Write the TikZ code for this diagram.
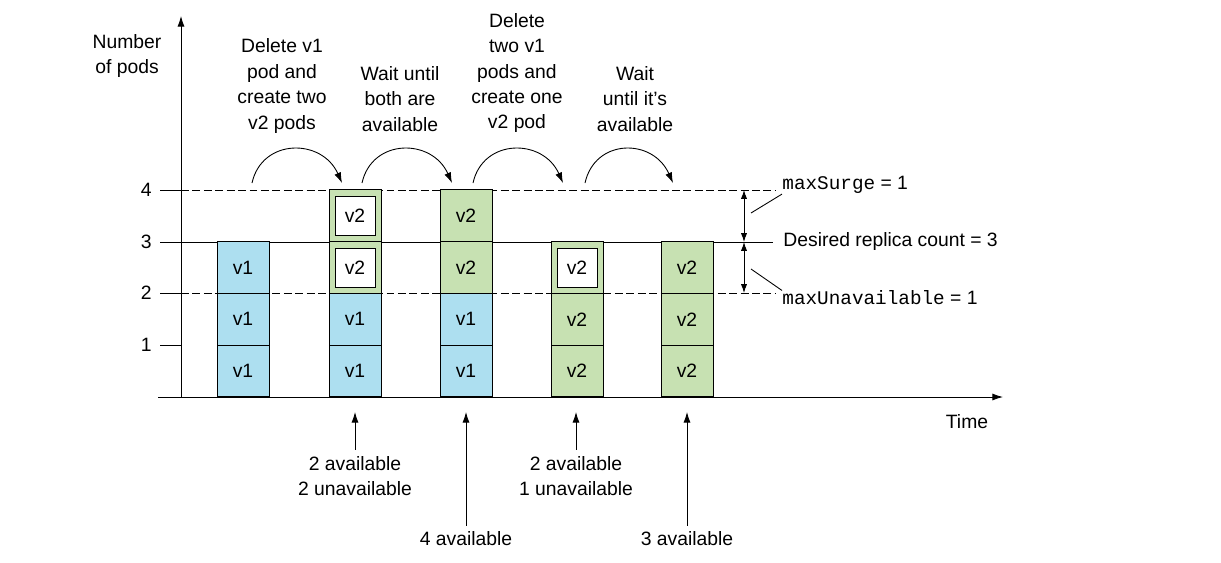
\documentclass[tikz,border=0pt]{standalone}
\usepackage{fontspec}
\setmainfont{Liberation Sans}
\setmonofont{Liberation Mono}
\usetikzlibrary{arrows.meta}
\definecolor{podblue}{RGB}{173,223,240}
\definecolor{podgreen}{RGB}{199,225,178}

\begin{document}
\begin{tikzpicture}[x=0.02cm, y=-0.02cm, line width=0.5pt, font=\fontsize{11}{14.5}\selectfont,
    cell/.style={draw, minimum width=1.04cm, minimum height=1.035cm, inner sep=0pt},
    oldpod/.style={cell, fill=podblue},
    newpod/.style={cell, fill=podgreen},
    startpod/.style={draw, fill=white, minimum width=0.8cm, minimum height=0.78cm, inner sep=0pt},
    note/.style={align=center},
    arr/.style={-{Latex[length=6pt,width=4pt]}},
    dimarr/.style={{Latex[length=5pt,width=3.5pt]}-{Latex[length=5pt,width=3.5pt]}},
    lvl/.style={dash pattern=on 4.5pt off 2pt}]
    \useasboundingbox (0,0) rectangle (1221,562);

    % axes
    \coordinate (xstart) at (158,397);
    \coordinate (xend) at (1003,397);
    \coordinate (O) at (181,397);
    \coordinate (yend) at (181,16);
    \draw[arr] (xstart) -- (xend);
    \draw[arr] (O) -- (yend);
    \node[note] (ylabel) at (127,56) {Number\\of pods};
    \node (xlabel) at (967,422) {Time};
    \foreach \n/\y in {1/345, 2/293, 3/242, 4/190} {
        \draw (160,\y) -- (181,\y);
        \node[anchor=east, inner sep=0pt] (tick\n) at (152,\y) {\n};
    }

    % levels
    \draw[lvl] (181,190) -- (775,190);
    \draw (181,242) -- (773,242);
    \draw[lvl] (181,293) -- (775,293);

    % column 1
    \node[oldpod] (p11) at (243,371) {v1};
    \node[oldpod] (p12) at (243,319.25) {v1};
    \node[oldpod] (p13) at (243,267.5) {v1};
    % column 2
    \node[oldpod] (p21) at (355,371) {v1};
    \node[oldpod] (p22) at (355,319.25) {v1};
    \node[newpod] (p23) at (355,267.5) {};
    \node[startpod] (s23) at (p23) {v2};
    \node[newpod] (p24) at (355,215.75) {};
    \node[startpod] (s24) at (p24) {v2};
    % column 3
    \node[oldpod] (p31) at (466,371) {v1};
    \node[oldpod] (p32) at (466,319.25) {v1};
    \node[newpod] (p33) at (466,267.5) {v2};
    \node[newpod] (p34) at (466,215.75) {v2};
    % column 4
    \node[newpod] (p41) at (577,371) {v2};
    \node[newpod] (p42) at (577,319.25) {v2};
    \node[newpod] (p43) at (577,267.5) {};
    \node[startpod] (s43) at (p43) {v2};
    % column 5
    \node[newpod] (p51) at (687,371) {v2};
    \node[newpod] (p52) at (687,319.25) {v2};
    \node[newpod] (p53) at (687,267.5) {v2};

    % steps
    \node[note] (step1) at (282,86) {Delete v1\\pod and\\create two\\v2 pods};
    \node[note] (step2) at (400,99) {Wait until\\both are\\available};
    \node[note] (step3) at (517,73) {Delete\\two v1\\pods and\\create one\\v2 pod};
    \node[note] (step4) at (635,99) {Wait\\until it's\\available};
    \coordinate (a1s) at (252,183); \coordinate (a1e) at (342,183);
    \coordinate (a2s) at (362,183); \coordinate (a2e) at (452,183);
    \coordinate (a3s) at (473,183); \coordinate (a3e) at (563,183);
    \coordinate (a4s) at (585,183); \coordinate (a4e) at (673,183);
    \draw[arr] (a1s) .. controls +(10,-45) and +(-20,-45) .. (a1e);
    \draw[arr] (a2s) .. controls +(10,-45) and +(-20,-45) .. (a2e);
    \draw[arr] (a3s) .. controls +(10,-45) and +(-20,-45) .. (a3e);
    \draw[arr] (a4s) .. controls +(10,-45) and +(-20,-45) .. (a4e);

    % surge / unavailable
    \coordinate (m4) at (744,190);
    \coordinate (m3) at (744,242);
    \coordinate (m2) at (744,293);
    \draw[dimarr] (m4) -- (m3);
    \draw[dimarr] (m3) -- (m2);
    \node[anchor=west, inner sep=0pt] (surge) at (782,185) {\texttt{maxSurge} = 1};
    \node[anchor=west, inner sep=0pt] (desired) at (783,241) {Desired replica count = 3};
    \node[anchor=west, inner sep=0pt] (unavail) at (782,298) {\texttt{maxUnavailable} = 1};
    \coordinate (ls) at (751,213);
    \coordinate (lu) at (751,269);
    \draw (ls) -- (surge.south west);
    \draw (lu) -- (unavail.north west);

    % availability
    \node[note] (av2) at (355,476) {2 available\\2 unavailable};
    \node (av3) at (466,539) {4 available};
    \node[note] (av4) at (576,476) {2 available\\1 unavailable};
    \node (av5) at (687,539) {3 available};
    \coordinate (t2) at (355,412);
    \coordinate (t3) at (466,412);
    \coordinate (t4) at (576,412);
    \coordinate (t5) at (687,412);
    \draw[arr] (av2) -- (t2);
    \draw[arr] (av3) -- (t3);
    \draw[arr] (av4) -- (t4);
    \draw[arr] (av5) -- (t5);
\end{tikzpicture}
\end{document}
